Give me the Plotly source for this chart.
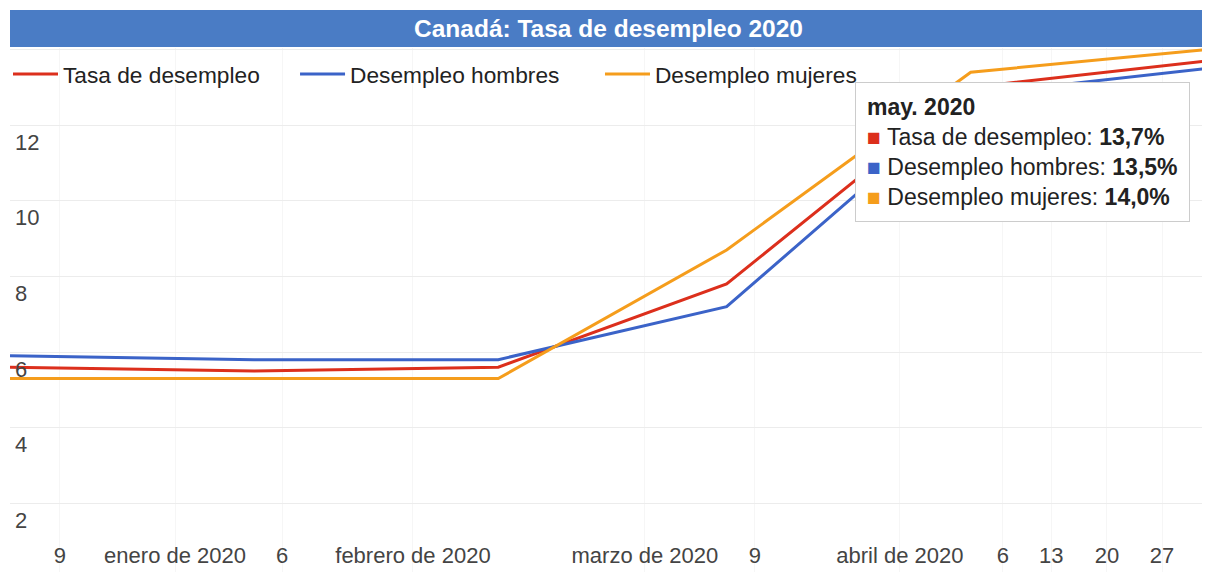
import plotly.graph_objects as go

# datos mensuales (porcentaje)
fechas = ["2019-12-01", "2020-01-01", "2020-02-01", "2020-03-01", "2020-04-01", "2020-05-01"]
tasa = [5.6, 5.5, 5.6, 7.8, 13.0, 13.7]
hombres = [5.9, 5.8, 5.8, 7.2, 12.8, 13.5]
mujeres = [5.3, 5.3, 5.3, 8.7, 13.4, 14.0]

# etiquetas del eje x tal como aparecen
x_ticks = ["2019-12-07 08:00", "2019-12-21 23:00", "2020-01-04 13:00", "2020-01-21 04:00",
           "2020-02-19 15:00", "2020-03-04 14:00", "2020-03-23 00:00", "2020-04-05 02:00",
           "2020-04-11 05:00", "2020-04-18 07:00", "2020-04-25 07:00"]
x_labels = ["9", "enero de 2020", "6", "febrero de 2020", "marzo de 2020", "9",
            "abril de 2020", "6", "13", "20", "27"]
y_ticks = [2, 4, 6, 8, 10, 12, 14]
y_labels = ["2", "4", "6", "8", "10", "12", ""]

series = [("Tasa de desempleo", tasa, "#dc2f1c"),
          ("Desempleo hombres", hombres, "#3b63c8"),
          ("Desempleo mujeres", mujeres, "#f59d1c")]

FONT = "Liberation Sans, Arial, Helvetica, sans-serif"

fig = go.Figure()
legends = ["legend", "legend2", "legend3"]
for (name, vals, color), lg in zip(series, legends):
    fig.add_trace(go.Scatter(x=fechas, y=vals, name=name, mode="lines", legend=lg,
                             line=dict(color=color, width=3)))

fig.update_xaxes(type="date", range=["2019-12-01", "2020-05-01"],
                 tickvals=x_ticks, ticktext=x_labels,
                 ticklabelposition="inside", ticks="", ticklabelstandoff=2,
                 tickfont=dict(size=22, color="#444", family=FONT),
                 showgrid=True, gridcolor="#f6f6f6", zeroline=False, showline=False)
fig.update_yaxes(range=[0.185, 14.04], tickvals=y_ticks, ticktext=y_labels,
                 ticklabelposition="inside", ticks="", ticklabelshift=17, ticklabelstandoff=2,
                 tickfont=dict(size=22, color="#444", family=FONT),
                 showgrid=True, gridcolor="#ececec", zeroline=False, showline=False)

# recuadro del mes de mayo
i = fechas.index("2020-05-01")
def fmt(v):
    return ("%.1f" % v).replace(".", ",") + "%"
tip = "<b>may. 2020</b>"
for name, vals, color in series:
    tip += "<br><span style='color:%s'>■</span> %s: <b>%s</b>" % (color, name, fmt(vals[i]))
fig.add_annotation(xref="paper", yref="paper", x=0.706, y=0.935, xanchor="left", yanchor="top",
                   text=tip, showarrow=False, align="left",
                   font=dict(size=23, color="#222", family=FONT),
                   bgcolor="white", bordercolor="#cccccc", borderwidth=1, borderpad=11)

# barra del título
fig.add_shape(type="rect", xref="paper", yref="paper", x0=0, x1=1.003, y0=1.002, y1=1.0725,
              fillcolor="#4a7cc5", line=dict(width=0), layer="above")

leg = dict(orientation="h", xref="container", y=0.95, xanchor="left", yanchor="middle",
           bgcolor="rgba(0,0,0,0)", itemwidth=45,
           font=dict(size=22.7, color="#222", family=FONT))

fig.update_layout(width=1202, height=564,
                  margin=dict(l=2, r=3, t=40, b=0, autoexpand=False),
                  title=dict(text="<b>Canadá: Tasa de desempleo 2020</b>", x=0.5, xref="paper",
                             xanchor="center", y=1 - 20 / 564, yanchor="middle",
                             font=dict(size=24.5, color="white", family=FONT)),
                  showlegend=True,
                  legend=dict(leg, x=-0.0025),
                  legend2=dict(leg, x=0.2388),
                  legend3=dict(leg, x=0.4925),
                  plot_bgcolor="white",
                  paper_bgcolor="white")

fig.write_html("out.html")
